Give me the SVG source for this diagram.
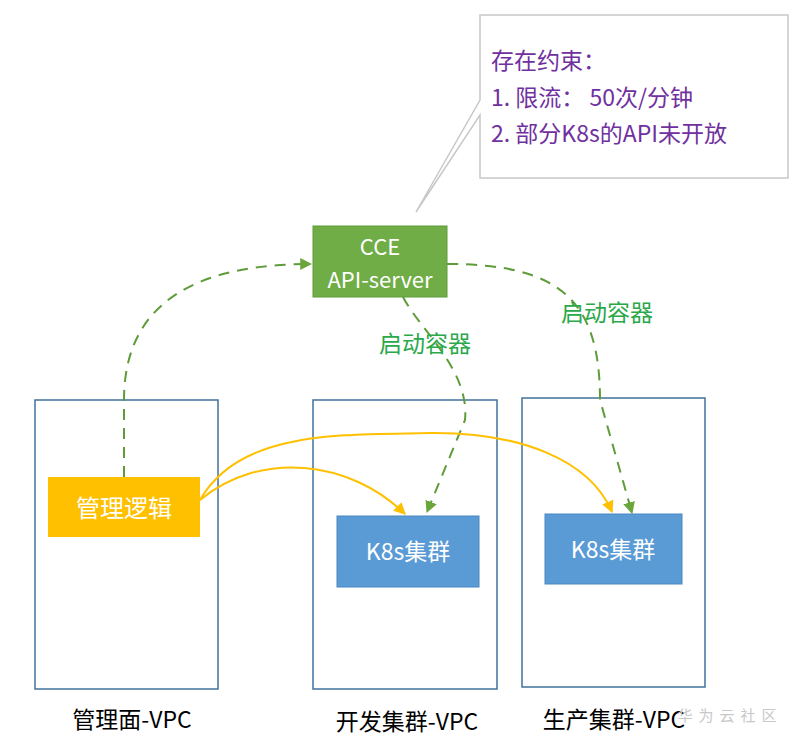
<svg xmlns="http://www.w3.org/2000/svg" width="795" height="740" viewBox="0 0 795 740">
<style>
text{font-family:"Noto Sans CJK SC","Noto Sans",sans-serif}
.vpc{fill:#fff;stroke:#41719c;stroke-width:1.5}
.g{fill:none;stroke:#5e9c3a;stroke-width:2;stroke-dasharray:11,8}
.y{fill:none;stroke:#ffc000;stroke-width:2}
.lbl{font-size:23px;fill:#000;text-anchor:middle}
.wt{fill:#fff;text-anchor:middle}
</style>
<defs>
<marker id="ag" viewBox="0 0 10 10" refX="9" refY="5" markerWidth="6" markerHeight="6" orient="auto"><path d="M0,0L10,5L0,10z" fill="#6aa639"/></marker>
<marker id="ay" viewBox="0 0 10 10" refX="9" refY="5" markerWidth="6" markerHeight="6" orient="auto"><path d="M0,0L10,5L0,10z" fill="#ffc000"/></marker>
</defs>
<rect width="795" height="740" fill="#fff"/>
<g id="vpc-mgmt"><rect class="vpc" x="35" y="400" width="183" height="289"/><text class="lbl" x="132" y="728">管理面-VPC</text></g>
<g id="vpc-dev"><rect class="vpc" x="313" y="400" width="184" height="289"/><text class="lbl" x="407" y="730">开发集群-VPC</text></g>
<g id="vpc-prod"><rect class="vpc" x="522" y="398" width="183" height="289"/><text class="lbl" x="614" y="728">生产集群-VPC</text></g>
<g id="callout"><path d="M480,15H788V178H480V115L416,212L480,100Z" fill="#fff" stroke="#c8c8c8" stroke-width="1.5"/>
<text font-size="23" fill="#7030a0"><tspan x="491" y="69">存在约束：</tspan><tspan x="491" y="106">1. 限流：  50次/分钟</tspan><tspan x="491" y="142">2. 部分K8s的API未开放</tspan></text></g>
<g id="cce"><rect x="313" y="226" width="134" height="71" fill="#70ad47" stroke="#5e9c3a"/><text class="wt" font-size="22" x="380" y="255">CCE</text><text class="wt" font-size="22" x="380" y="288">API-server</text></g>
<g id="mgmt-logic"><rect x="48" y="477" width="152" height="60" fill="#ffc000"/><text class="wt" font-size="24" x="124" y="517">管理逻辑</text></g>
<g id="k8s-dev"><rect x="337" y="516" width="142" height="71" fill="#5b9bd5" stroke="#4a88c2"/><text class="wt" font-size="23" x="408" y="560">K8s集群</text></g>
<g id="k8s-prod"><rect x="545" y="514" width="137" height="70" fill="#5b9bd5" stroke="#4a88c2"/><text class="wt" font-size="23" x="613" y="558">K8s集群</text></g>
<g id="connectors">
<path class="g" d="M124,477V400C124,300 200,264 311,264" marker-end="url(#ag)"/>
<path class="g" d="M447,264C560,264 600,300 600,400L632,513" marker-end="url(#ag)"/>
<path class="g" d="M403,297C420,330 470,370 465,420L427,512" marker-end="url(#ag)"/>
<path class="y" d="M200,500C260,450 350,460 405,514" marker-end="url(#ay)"/>
<path class="y" d="M200,500C240,430 340,435 430,433C520,432 590,460 612,512" marker-end="url(#ay)"/>
</g>
<text x="425" y="352" font-size="23" fill="#2aa84a" text-anchor="middle">启动容器</text>
<text x="607" y="321" font-size="23" fill="#2aa84a" text-anchor="middle">启动容器</text>
<text x="730" y="721" font-size="15" fill="#c8c8c8" text-anchor="middle" letter-spacing="6">华为云社区</text>
</svg>
